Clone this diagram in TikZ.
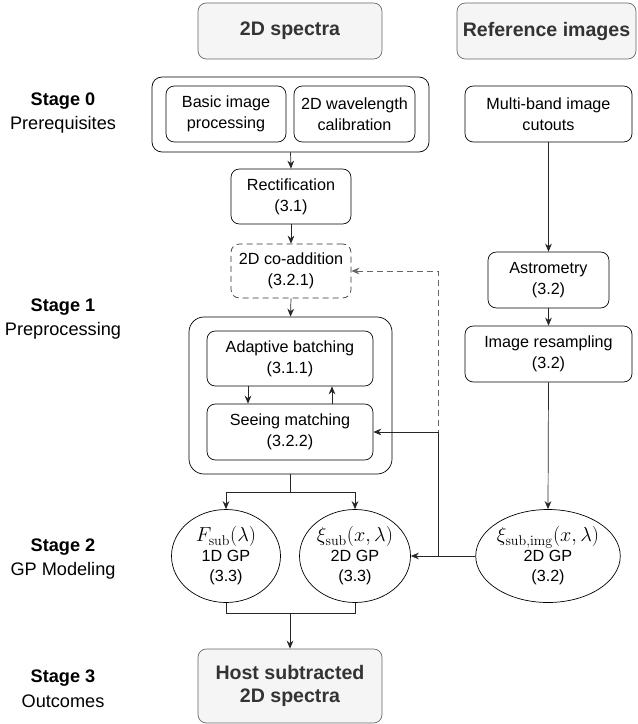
\documentclass[tikz,border=0pt]{standalone}
\usepackage{amsmath}
\usepackage[no-math]{fontspec}
\setmainfont{Liberation Sans}
\usetikzlibrary{arrows.meta,positioning,shapes.geometric}
\definecolor{hdrfill}{HTML}{F5F5F5}
\definecolor{hdrline}{HTML}{666666}
\definecolor{hdrtext}{HTML}{333333}

\begin{document}
\begin{tikzpicture}[x=0.03cm,y=-0.03cm,>=Stealth,
  hdr/.style={draw=hdrline,rounded corners=0.25cm,fill=hdrfill,text=hdrtext,align=center,font=\fontsize{16.7}{19}\selectfont\bfseries,line width=0.6pt},
  pbox/.style={draw=black,rounded corners=0.25cm,align=center,font=\fontsize{13.8}{18}\selectfont,line width=0.6pt,inner sep=0pt},
  gpell/.style={draw=black,ellipse,align=center,font=\fontsize{13.8}{17}\selectfont,line width=0.6pt,inner sep=0pt},
  stagelbl/.style={align=center,font=\fontsize{15.5}{21}\selectfont},
  arr/.style={-{Stealth[length=2.4mm,width=2mm]},line width=0.6pt,draw=black!85},
  ln/.style={line width=0.6pt,draw=black!85}]
\useasboundingbox (0,0) rectangle (637,724);
% column heads
\node[hdr,minimum width=5.52cm,minimum height=1.68cm] (sp_head) at (290,31) {2D spectra};
\node[hdr,minimum width=5.37cm,minimum height=1.68cm] (ri_head) at (546.5,31) {Reference images};
% stage labels
\node[stagelbl] (lbl_s0) at (63,113) {\textbf{Stage 0}\\Prerequisites};
\node[stagelbl] (lbl_s1) at (63,319) {\textbf{Stage 1}\\Preprocessing};
\node[stagelbl] (lbl_s2) at (63,559) {\textbf{Stage 2}\\GP Modeling};
\node[stagelbl] (lbl_s3) at (63,689) {\textbf{Stage 3}\\Outcomes};
% stage 0
\node[pbox,rounded corners=0.3cm,minimum width=8.31cm,minimum height=2.25cm] (sp_pre) at (290.5,114.5) {};
\node[pbox,minimum width=3.6cm,minimum height=1.68cm] (sp_basic) at (226,114) {Basic image\\processing};
\node[pbox,minimum width=3.63cm,minimum height=1.68cm] (sp_wave) at (354.5,114) {2D wavelength\\calibration};
\node[pbox,minimum width=5.01cm,minimum height=1.68cm] (ri_cut) at (548.5,114) {Multi-band image\\cutouts};
% stage 1, spectra
\node[pbox,minimum width=3.6cm,minimum height=1.65cm] (sp_rect) at (291,196.5) {Rectification\\(3.1)};
\node[pbox,dash pattern=on 1.8mm off 1.2mm,draw=black!80,minimum width=3.6cm,minimum height=1.62cm] (sp_coadd) at (291,271) {2D co-addition\\(3.2.1)};
\node[pbox,rounded corners=0.45cm,minimum width=6.09cm,minimum height=4.71cm] (sp_loop) at (290.5,395.5) {};
\node[pbox,minimum width=4.98cm,minimum height=1.65cm] (sp_batch) at (290,358.5) {Adaptive batching\\(3.1.1)};
\node[pbox,minimum width=4.98cm,minimum height=1.68cm] (sp_see) at (290,432) {Seeing matching\\(3.2.2)};
% stage 1, images
\node[pbox,minimum width=3.63cm,minimum height=1.68cm] (ri_astro) at (548.5,280) {Astrometry\\(3.2)};
\node[pbox,minimum width=5.01cm,minimum height=1.68cm] (ri_resamp) at (548.5,354) {Image resampling\\(3.2)};
% stage 2
\node[gpell,minimum width=3.27cm,minimum height=2.79cm] (gp_1d) at (226,556) {{\fontsize{17}{19}\selectfont $F_{\mathrm{sub}}(\lambda)$}\\1D GP\\(3.3)};
\node[gpell,minimum width=3.33cm,minimum height=2.79cm] (gp_2d) at (355,556) {{\fontsize{17}{19}\selectfont $\xi_{\mathrm{sub}}(x,\lambda)$}\\2D GP\\(3.3)};
\node[gpell,minimum width=4.11cm,minimum height=2.79cm] (gp_img) at (548,556) {{\fontsize{17}{19}\selectfont $\xi_{\mathrm{sub,img}}(x,\lambda)$}\\2D GP\\(3.2)};
% stage 3
\node[hdr,minimum width=5.52cm,minimum height=2.22cm] (out_host) at (290,686) {Host subtracted\\2D spectra};
% connectors
\draw[arr] (sp_pre.south) -- (sp_rect.north);
\draw[arr] (sp_rect.south) -- (sp_coadd.north);
\draw[arr] (sp_coadd.south) -- (sp_loop.north);
\draw[arr] ([xshift=-1.26cm]sp_batch.south) -- ([xshift=-1.26cm]sp_see.north);
\draw[arr] ([xshift=1.26cm]sp_see.north) -- ([xshift=1.26cm]sp_batch.south);
\draw[ln] (sp_loop.south) -- ++(0,18) coordinate (sp_split);
\draw[arr] (sp_split) -| (gp_1d.north);
\draw[arr] (sp_split) -| (gp_2d.north);
\draw[arr] (ri_cut.south) -- (ri_astro.north);
\draw[arr] (ri_astro.south) -- (ri_resamp.north);
\draw[arr] (ri_resamp.south) -- (gp_img.north);
\coordinate (ri_junc) at (438,556);
\draw[arr,draw=hdrline,dash pattern=on 1.8mm off 1.2mm] (ri_junc) |- (sp_coadd.east);
\draw[arr] (gp_img.west) -- (gp_2d.east);
\draw[arr] (ri_junc) |- (sp_see.east);
\draw[ln] (gp_1d.south) -- ++(0,10) coordinate (gp_join) -| (gp_2d.south);
\draw[arr] (gp_join -| out_host.north) -- (out_host.north);
\end{tikzpicture}
\end{document}
